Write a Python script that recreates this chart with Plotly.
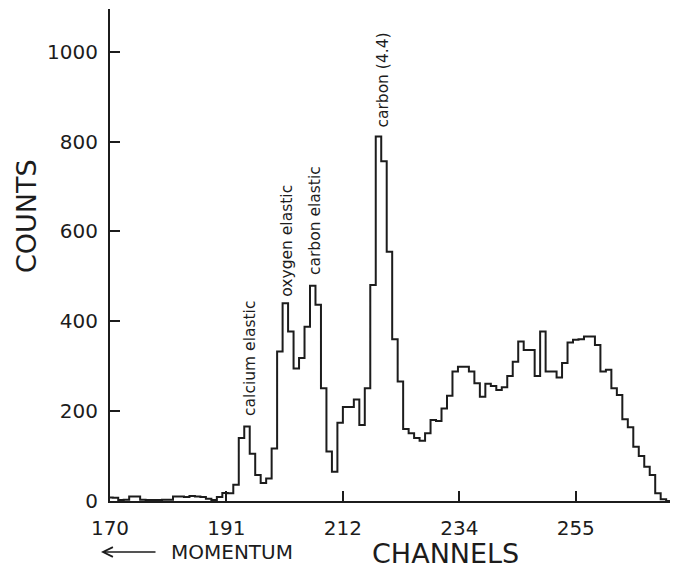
import plotly.graph_objects as go

# ---- data ----
channels = list(range(170, 273))
counts = [
    8, 7, 2, 3, 10, 10, 3, 2, 2, 2,          # 170-179
    3, 3, 10, 10, 9, 11, 10, 9, 5, 2,        # 180-189
    9, 18, 17, 36, 140, 166, 105, 58, 40, 50,  # 190-199
    117, 333, 440, 377, 295, 318, 388, 479, 437, 251,  # 200-209
    110, 65, 174, 209, 209, 226, 169, 251, 481, 811,   # 210-219
    756, 555, 360, 266, 160, 151, 140, 134, 151, 180,  # 220-229
    178, 206, 234, 288, 299, 299, 288, 262, 232, 261,  # 230-239
    256, 247, 253, 278, 310, 355, 336, 336, 278, 377,  # 240-249
    288, 288, 275, 307, 353, 359, 360, 366, 366, 347,  # 250-259
    288, 292, 251, 236, 182, 164, 121, 100, 76, 58,    # 260-269
    17, 4, 0,                                          # 270-272
]
x_tick_vals = [170, 191.25, 212.5, 233.75, 255]
x_tick_text = ["170", "191", "212", "234", "255"]
y_tick_vals = [0, 200, 400, 600, 800, 1000]

peak_labels = ["calcium elastic", "oxygen elastic", "carbon elastic", "carbon (4.4)"]
peak_channels = [195, 202, 207, 219]

# ---- build step outline from bins (bins centred on channels) ----
x_step = [c - 0.5 for c in channels] + [channels[-1] + 0.5]
y_step = counts + [counts[-1]]

INK = "#1c1c1c"
FONT = "DejaVu Sans"

fig = go.Figure()
fig.add_trace(go.Scatter(
    x=x_step, y=y_step, mode="lines", line_shape="hv",
    line=dict(color=INK, width=2), hoverinfo="skip", showlegend=False,
))

# peak annotations (rotated text above peaks)
shifts = {195: (3, 9), 202: (2, 5), 207: (3, 9), 219: (5, 7)}
for lab, ch in zip(peak_labels, peak_channels):
    val = counts[channels.index(ch)]
    dx, dy = shifts[ch]
    fig.add_annotation(
        x=ch, y=val, text=lab, textangle=-90, showarrow=False,
        xanchor="center", yanchor="bottom", xshift=dx, yshift=dy,
        font=dict(family=FONT, size=15.5, color=INK),
    )

# axis titles
fig.add_annotation(
    xref="paper", yref="paper", x=(26 - 110) / 560, y=(501 - 216) / 492,
    text="COUNTS", textangle=-90, showarrow=False,
    xanchor="center", yanchor="middle",
    font=dict(family=FONT, size=27, color=INK),
)
fig.add_annotation(
    xref="paper", yref="paper", x=(445 - 110) / 560, y=(501 - 553) / 492,
    text="CHANNELS", showarrow=False, xanchor="center", yanchor="middle",
    font=dict(family=FONT, size=27, color=INK),
)
fig.add_annotation(
    xref="paper", yref="paper", x=(232 - 110) / 560, y=(501 - 552) / 492,
    text="MOMENTUM", showarrow=False, xanchor="center", yanchor="middle",
    font=dict(family=FONT, size=20, color=INK),
)
fig.add_annotation(
    xref="paper", yref="paper", x=(101 - 110) / 560, y=(501 - 552) / 492,
    text="", showarrow=True, ax=56, ay=0, arrowhead=5, arrowsize=1.2,
    arrowwidth=1.6, arrowcolor=INK,
)

fig.update_layout(
    width=678, height=571,
    margin=dict(l=110, r=8, t=9, b=70),
    paper_bgcolor="white", plot_bgcolor="white",
    font=dict(family=FONT, color=INK),
    xaxis=dict(
        range=[170, 272.2], tickvals=x_tick_vals, ticktext=x_tick_text,
        ticks="inside", ticklen=10, tickwidth=2, tickcolor=INK,
        showline=True, linewidth=2, linecolor=INK,
        showgrid=False, zeroline=False,
        tickfont=dict(family=FONT, size=20, color=INK),
        ticklabelstandoff=8,
    ),
    yaxis=dict(
        range=[0, 1095], tickvals=y_tick_vals,
        ticks="inside", ticklen=10, tickwidth=2, tickcolor=INK,
        showline=True, linewidth=2, linecolor=INK,
        showgrid=False, zeroline=False,
        tickfont=dict(family=FONT, size=20, color=INK),
        ticklabelstandoff=6,
    ),
)

fig.write_html("out.html")
